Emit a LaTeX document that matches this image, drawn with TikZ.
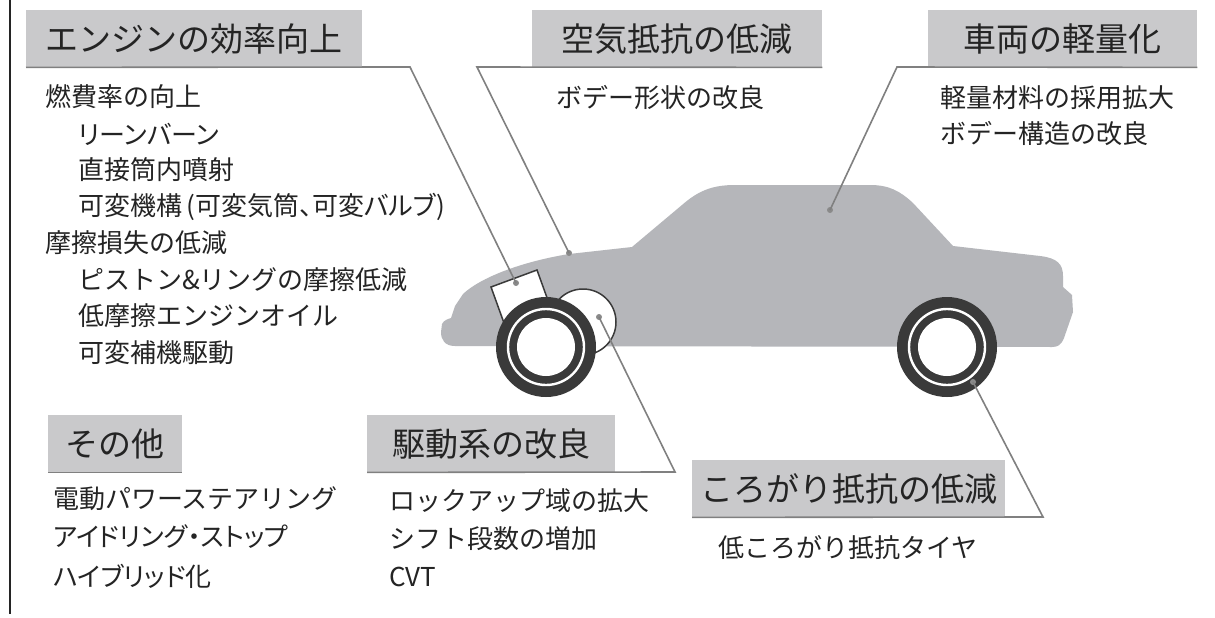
\documentclass[tikz,border=0pt]{standalone}
\usepackage{fontspec}
\newfontfamily\jpfont{Noto Sans CJK JP}
\newfontfamily\jpprop[RawFeature=+palt]{Noto Sans CJK JP}
\definecolor{boxgray}{HTML}{C9C9CB}
\definecolor{bodygray}{HTML}{B5B6BA}
\definecolor{tiredark}{HTML}{3A3A3A}
\definecolor{leadgray}{HTML}{808080}
\definecolor{pingray}{HTML}{8A8A8A}
\definecolor{ink}{HTML}{242424}
\begin{document}
\begin{tikzpicture}[x=1pt,y=-1pt,
  titlebox/.style={fill=boxgray, anchor=north west, inner sep=0pt,
    minimum height=57pt, font=\jpfont\fontsize{33}{36}\selectfont, text=ink},
  item/.style={anchor=west, inner sep=0pt,
    font=\jpfont\fontsize{26}{30}\selectfont, text=ink},
  pitem/.style={item, font=\jpprop\fontsize{26}{30}\selectfont},
  leader/.style={draw=leadgray, line width=1.6pt},
  pin/.style={circle, fill=pingray, inner sep=0pt, minimum size=6pt},
  tyre/.style={fill=tiredark},
]
\fill[white] (0,0) rectangle (1215,618);
\useasboundingbox (0,0) rectangle (1215,618);

% frame line on the left
\draw[line width=1.5pt, ink] (10,0) -- (10,614);

% ---------- car body ----------
\fill[bodygray] (455,346)
  .. controls (445,346) and (441,340) .. (441,332)
  -- (442,324) .. controls (444,320) and (448,319) .. (451,318)
  -- (455,306) -- (463,294)
  .. controls (480,278) and (520,262) .. (569,254)
  -- (632,247)
  -- (682,205) .. controls (698,191) and (712,185) .. (735,185)
  -- (870,185) .. controls (889,185) and (900,191) .. (913,203)
  -- (953,246)
  -- (1040,256) .. controls (1057,258) and (1063,264) .. (1063,276)
  -- (1063,287) -- (1072,295) -- (1073,312)
  -- (1064,338) .. controls (1061,345) and (1058,347) .. (1052,347)
  -- cycle;

% engine block and transmission
\filldraw[fill=white, draw=tiredark, line width=1.5pt]
  (491,287) -- (537,270) -- (550,306) -- (504,323) -- cycle;
\filldraw[fill=white, draw=tiredark, line width=1.5pt] (583,322) circle[radius=33];

% wheels
\foreach \cx in {546,947}{
  \fill[tyre] (\cx,347) circle[radius=50];
  \draw[white, line width=2.4pt] (\cx,347) circle[radius=38];
  \fill[white] (\cx,347) circle[radius=29];
}

% ---------- title boxes ----------
\node[titlebox, minimum width=336pt] (t1) at (26,10) {エンジンの効率向上};
\node[titlebox, minimum width=290pt] (t2) at (532,10) {空気抵抗の低減};
\node[titlebox, minimum width=269pt] (t3) at (928,10) {車両の軽量化};
\node[titlebox, minimum width=134pt] (t4) at (48,415) {その他};
\node[titlebox, minimum width=248pt] (t5) at (367,415) {駆動系の改良};
\node[titlebox, minimum width=313pt] (t6) at (692,460) {ころがり抵抗の低減};

% ---------- pins on the car ----------
\node[pin] (d1) at (516,283) {};
\node[pin] (d2) at (569,253) {};
\node[pin] (d3) at (830,210) {};
\node[pin] (d4) at (599,317) {};
\node[pin] (d5) at (973,382) {};

% leader bends
\coordinate (k1) at (410,67);
\coordinate (k2) at (477,67);
\coordinate (k3) at (897,67);
\coordinate (k5) at (675,472);
\coordinate (k6) at (1043,517);

\draw[leader] (t1.south west) -- (k1) -- (d1.center);
\draw[leader] (t2.south east) -- (k2) -- (d2.center);
\draw[leader] (t3.south east) -- (k3) -- (d3.center);
\draw[leader] (t4.south west) -- (t4.south east);
\draw[leader] (t5.south west) -- (k5) -- (d4.center);
\draw[leader] (t6.south west) -- (k6) -- (d5.center);

% ---------- item lists ----------
\node[item]  (e1) at (45,97)  {燃費率の向上};
\node[pitem] (e2) at (78,134) {リーンバーン};
\node[item]  (e3) at (78,170) {直接筒内噴射};
\node[pitem] (e4) at (78,207) {可変機構\,(可変気筒、可変バルブ)};
\node[item]  (e5) at (45,243) {摩擦損失の低減};
\node[item]  (e6) at (78,280) {ピストン\&リングの摩擦低減};
\node[item]  (e7) at (78,316) {低摩擦エンジンオイル};
\node[item]  (e8) at (78,353) {可変補機駆動};

\node[item] (a1) at (556,98) {ボデー形状の改良};

\node[item] (w1) at (940,98)  {軽量材料の採用拡大};
\node[item] (w2) at (940,134) {ボデー構造の改良};

\node[item]  (o1) at (53,499) {電動パワーステアリング};
\node[pitem] (o2) at (53,537) {アイドリング・ストップ};
\node[pitem] (o3) at (53,576) {ハイブリッド化};

\node[item]  (g1) at (389,501) {ロックアップ域の拡大};
\node[item]  (g2) at (389,539) {シフト段数の増加};
\node[item]  (g3) at (389,577) {CVT};

\node[item] (r1) at (718,548) {低ころがり抵抗タイヤ};
\end{tikzpicture}
\end{document}
